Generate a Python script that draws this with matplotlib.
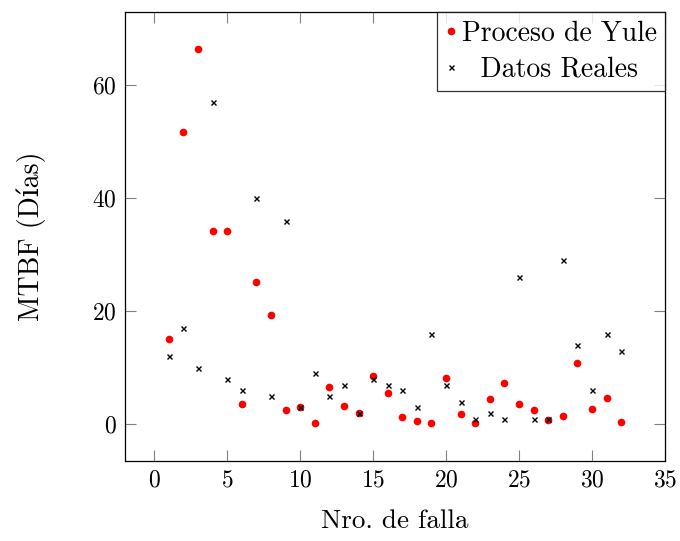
import matplotlib
matplotlib.use("Agg")
import matplotlib.pyplot as plt

fallas = list(range(1, 33))
yule = [15.0, 51.6, 66.3, 34.1, 34.1, 3.5, 25.1, 19.3, 2.6, 3.0,
        0.2, 6.5, 3.2, 2.0, 8.5, 5.6, 1.2, 0.5, 0.3, 8.1,
        1.8, 0.3, 4.4, 7.3, 3.6, 2.6, 0.7, 1.4, 10.9, 2.7,
        4.6, 0.4]
reales = [12, 17, 10, 57, 8, 6, 40, 5, 36, 3,
          9, 5, 7, 2, 8, 7, 6, 3, 16, 7,
          4, 1, 2, 1, 26, 1, 1, 29, 14, 6,
          16, 13]
xticks = [0, 5, 10, 15, 20, 25, 30, 35]
yticks = [0, 20, 40, 60]

plt.rcParams['font.family'] = ['cmr10', 'DejaVu Serif']
plt.rcParams['axes.formatter.use_mathtext'] = True
plt.rcParams['mathtext.fontset'] = 'cm'

fig = plt.figure(figsize=(6.8, 5.41), dpi=100)
ax = fig.add_axes([125/680, 1-461/541, (665-125)/680, (461-12)/541])

ax.plot(fallas, yule, linestyle='none', marker='o', markersize=4.5,
        color='red', label='Proceso de Yule')
ax.plot(fallas, reales, linestyle='none', marker='x', markersize=3.6,
        markeredgewidth=1.0, color='black', label='Datos Reales')

ax.set_xlim(-2, 35)
ax.set_ylim(-6.5, 72.9)
ax.set_xticks(xticks)
ax.set_yticks(yticks)
ax.tick_params(direction='in', length=8, width=0.8, color='0.5',
               top=True, right=True, labelsize=17, pad=6)
for s in ax.spines.values():
    s.set_color('black')
    s.set_linewidth(0.9)

ax.set_xlabel('Nro. de falla', fontsize=19.5, labelpad=13)
ax.set_ylabel('MTBF (Días)', fontsize=20, labelpad=33)

leg = ax.legend(loc='upper right', fontsize=20, frameon=True, fancybox=False,
                edgecolor='black', borderaxespad=0, handlelength=0.4,
                handletextpad=0.2, borderpad=0.3, labelspacing=0.35,
                markerscale=1.0)
leg.get_frame().set_linewidth(0.9)
texts = leg.get_texts()
texts[1].set_text('  Datos Reales')

fig.savefig('out.png', dpi=100)
